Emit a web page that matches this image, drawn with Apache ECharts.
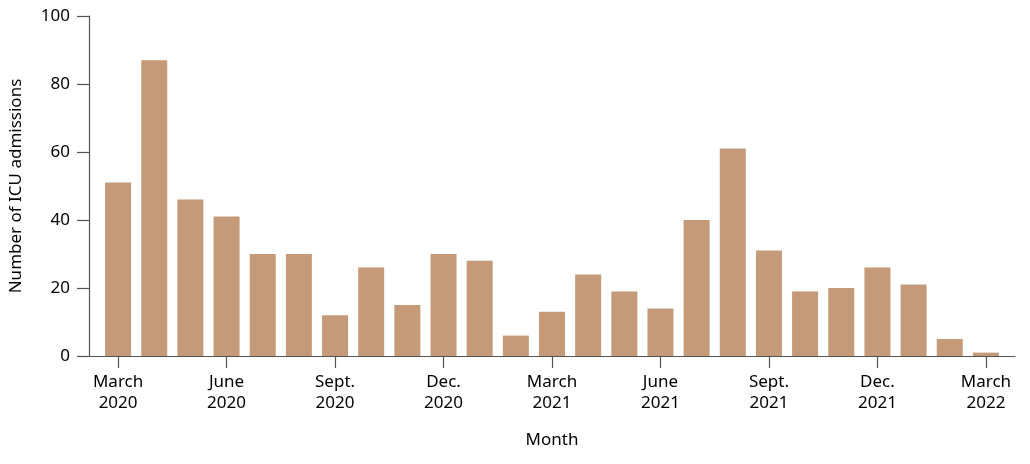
<!DOCTYPE html>
<html><head><meta charset="utf-8">
<script src="https://cdn.jsdelivr.net/npm/echarts@6/dist/echarts.min.js"></script>
<style>html,body{margin:0;padding:0;background:#fff}#c{width:1030px;height:464px}</style>
</head><body><div id="c"></div>
<script>
var months = ['March 2020','April 2020','May 2020','June 2020','July 2020','Aug. 2020','Sept. 2020','Oct. 2020','Nov. 2020','Dec. 2020','Jan. 2021','Feb. 2021','March 2021','April 2021','May 2021','June 2021','July 2021','Aug. 2021','Sept. 2021','Oct. 2021','Nov. 2021','Dec. 2021','Jan. 2022','Feb. 2022','March 2022'];
var admissions = [51,87,46,41,30,30,12,26,15,30,28,6,13,24,19,14,40,61,31,19,20,26,21,5,1];
var tickLabels = {'March 2020':'March\n2020','June 2020':'June\n2020','Sept. 2020':'Sept.\n2020','Dec. 2020':'Dec.\n2020','March 2021':'March\n2021','June 2021':'June\n2021','Sept. 2021':'Sept.\n2021','Dec. 2021':'Dec.\n2021','March 2022':'March\n2022'};

var font = 'Noto Sans';
var axisColor = '#555';
var txt = '#000';
var chart = echarts.init(document.getElementById('c'), null, {renderer:'canvas'});
chart.setOption({
  animation:false,
  grid:[
    {left:100,right:26,top:16,bottom:108},
    {left:85,right:15,top:16,bottom:108}
  ],
  xAxis:[{
    type:'category', data:months, gridIndex:0, boundaryGap:true,
    axisLine:{show:false},
    axisTick:{show:true,interval:2,alignWithLabel:true,length:12,lineStyle:{color:axisColor,width:1.2}},
    axisLabel:{interval:2,color:txt,fontSize:17,fontFamily:font,lineHeight:21,margin:16,
      formatter:function(v){return tickLabels[v]||'';}}
  },{
    type:'value', gridIndex:1, min:0, max:1,
    name:'Month', nameLocation:'middle', nameGap:76,
    nameTextStyle:{color:txt,fontSize:17,fontFamily:font},
    splitLine:{show:false},
    axisLine:{show:true,onZero:false,lineStyle:{color:axisColor,width:1.2}},
    axisTick:{show:false}, axisLabel:{show:false}
  }],
  yAxis:[{
    type:'value', gridIndex:0, min:0, max:100, show:false
  },{
    type:'value', gridIndex:1, min:0, max:100, interval:20,
    name:'Number of ICU admissions', nameLocation:'middle', nameGap:64, nameRotate:90,
    nameTextStyle:{color:txt,fontSize:17,fontFamily:font},
    splitLine:{show:false},
    axisLine:{show:true,onZero:false,lineStyle:{color:axisColor,width:1.2}},
    axisTick:{show:true,length:12,lineStyle:{color:axisColor,width:1.2}},
    axisLabel:{color:txt,fontSize:17,fontFamily:font,margin:19}
  }],
  series:[{
    type:'bar', xAxisIndex:0, yAxisIndex:0,
    data:admissions,
    barWidth:26,
    itemStyle:{color:'#C49A78'}
  }]
});
</script></body></html>
